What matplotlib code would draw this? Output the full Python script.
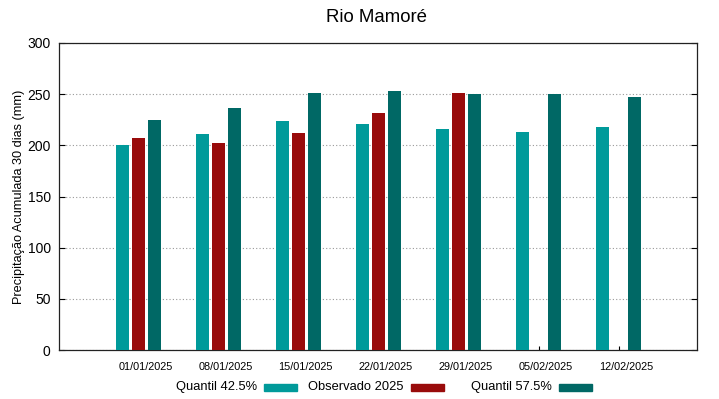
import numpy as np
import matplotlib
matplotlib.use("Agg")
import matplotlib.pyplot as plt
from matplotlib.patches import Rectangle

plt.rcParams['font.family'] = ['Liberation Sans', 'DejaVu Sans']

dates = ["01/01/2025", "08/01/2025", "15/01/2025", "22/01/2025",
         "29/01/2025", "05/02/2025", "12/02/2025"]
q425 = [200, 211, 223.5, 220.5, 215.5, 213.5, 218]
obs2025 = [207.5, 202.5, 212, 232, 251.5, np.nan, np.nan]
q575 = [225, 236.5, 251.5, 253, 250, 250, 247.5]
series_labels = ["Quantil 42.5%", "Observado 2025", "Quantil 57.5%"]

c_q425 = "#009a9a"
c_obs = "#990b0b"
c_q575 = "#006865"
colors = [c_q425, c_obs, c_q575]

W, H = 719, 399
fig = plt.figure(figsize=(W/100, H/100), dpi=100)
ax = fig.add_axes([59/W, 49/H, 638/W, 307/H])

x = np.arange(1, len(dates) + 1)
w = 0.165
ax.bar(x - 0.2, q425, w, color=c_q425, zorder=3)
ax.bar(x, obs2025, w, color=c_obs, zorder=3)
ax.bar(x + 0.2, q575, w, color=c_q575, zorder=3)

ax.set_xlim(0.005, 7.98)
ax.set_ylim(0, 300)
ax.set_yticks(np.arange(0, 301, 50))
ax.set_xticks(x)
ax.set_xticklabels([])
for xi, d in zip(x, dates):
    ax.text(xi + 0.09, -0.04, d, transform=ax.get_xaxis_transform(),
            ha='center', va='top', fontsize=7.8)
ax.tick_params(axis='y', direction='in', right=True, labelsize=10, length=4, pad=6)
ax.tick_params(axis='x', direction='in', length=3)
ax.grid(axis='y', linestyle=(0, (1, 2)), color='#999999', linewidth=0.8, zorder=0)
for s in ax.spines.values():
    s.set_linewidth(0.9)
    s.set_color('#222222')

ax.set_ylabel("Precipitação Acumulada 30 dias (mm)", fontsize=9.2, labelpad=2)
fig.text(376/W, 1 - 17/H, "Rio Mamoré", ha='center', va='center', fontsize=13.4)

# gnuplot-style legend: text right-aligned, colour box after it
text_right = [257, 403.5, 552]
for lab, col, xr in zip(series_labels, colors, text_right):
    fig.text(xr/W, 1 - 387/H, lab, ha='right', va='center', fontsize=9.3)
    fig.add_artist(Rectangle(((xr + 7)/W, 1 - 390.5/H), 33/W, 7/H,
                             transform=fig.transFigure, color=col))

fig.savefig("out.png", dpi=100)
